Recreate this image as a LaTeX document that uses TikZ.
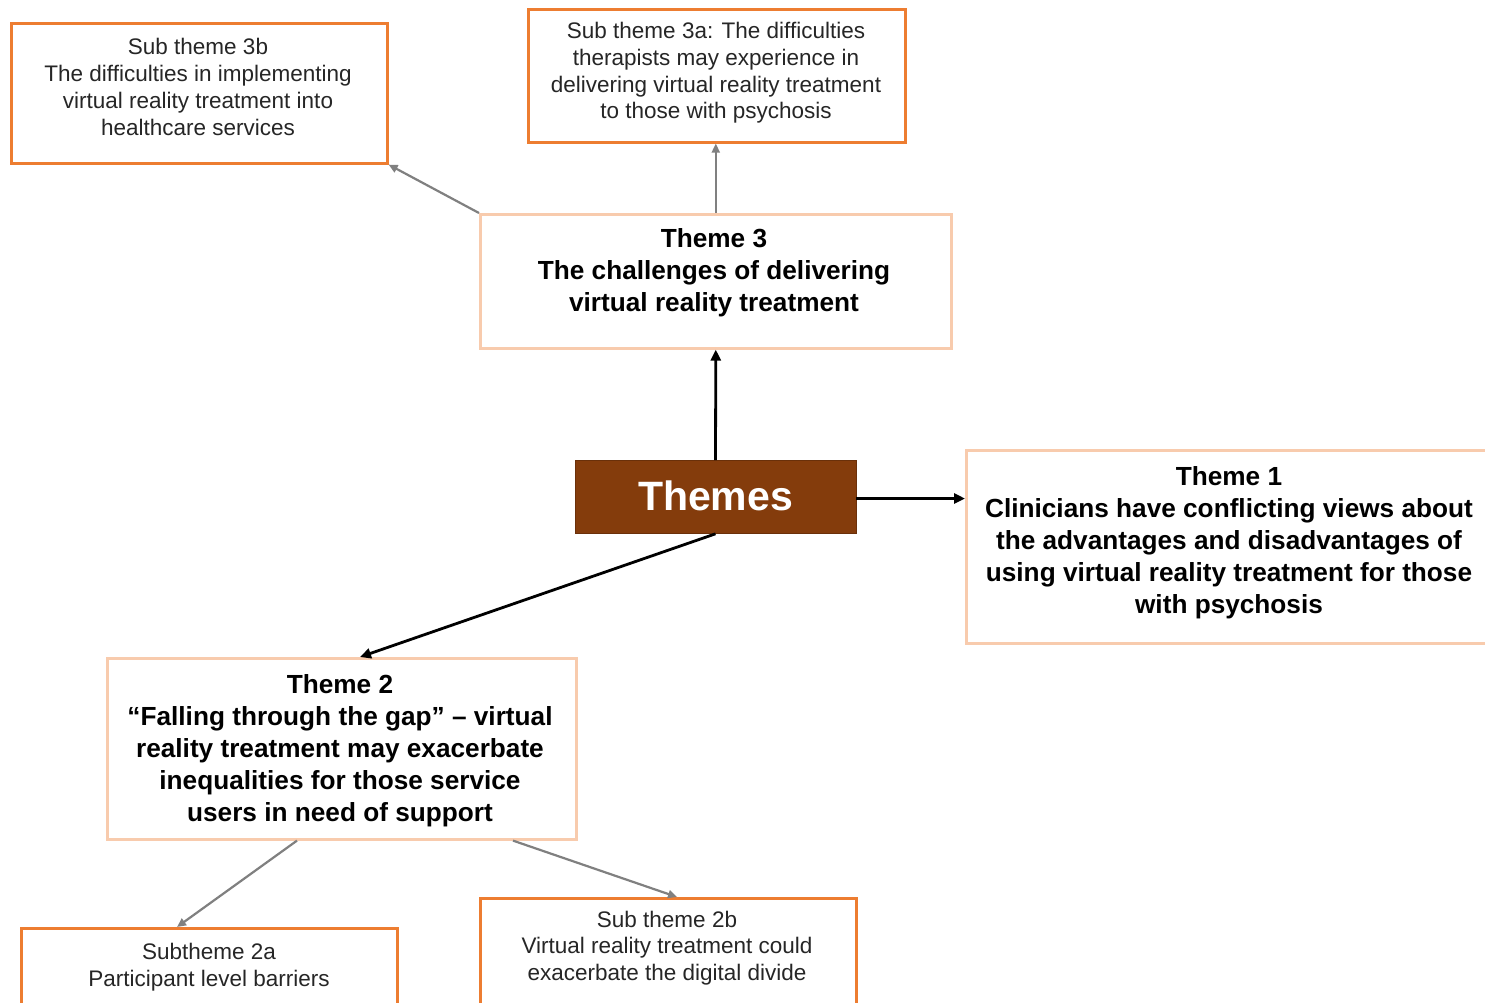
\documentclass[tikz,border=0pt]{standalone}
\usepackage{fontspec}
\setmainfont{Liberation Sans}
\usetikzlibrary{arrows.meta,positioning}

\definecolor{subedge}{HTML}{ED7D31}
\definecolor{themeedge}{HTML}{F8CBAD}
\definecolor{hubfill}{HTML}{843C0C}
\definecolor{sublink}{HTML}{808080}
\definecolor{subtext}{HTML}{262626}

\tikzset{
  x=1pt, y=-1pt,
  boxbase/.style={rectangle, anchor=north west, inner sep=0pt, fill=white},
  subbox/.style={boxbase, draw=subedge, line width=2.6pt},
  themebox/.style={boxbase, draw=themeedge, line width=2.6pt},
  subtxt/.style={align=center, inner sep=0pt, text=subtext,
    font=\fontsize{22.5}{26.7}\selectfont},
  themetxt/.style={align=center, inner sep=0pt, text=black,
    font=\fontsize{26.2}{32}\selectfont\bfseries},
  hub/.style={rectangle, fill=hubfill, draw=hubfill!80!black, line width=0.6pt,
    minimum width=281pt, minimum height=73pt, inner sep=0pt, text=white,
    font=\fontsize{41}{46}\selectfont\bfseries},
  mainlink/.style={line width=2.8pt, draw=black,
    -{Triangle[length=11pt,width=10pt]}},
  sublinkarrow/.style={line width=2.2pt, draw=sublink,
    -{Triangle[length=9pt,width=8pt]}}
}

\begin{document}
\begin{tikzpicture}
\clip (0,0) rectangle (1485,1002);
\fill[white] (0,0) rectangle (1485,1002);

% sub-theme boxes
\node[subbox, minimum width=376pt, minimum height=140pt] (s3b) at (10,22) {};
\node[subbox, minimum width=377pt, minimum height=133pt] (s3a) at (527,8) {};
\node[subbox, minimum width=376pt, minimum height=120pt] (s2a) at (20,927) {};
\node[subbox, minimum width=376pt, minimum height=150pt] (s2b) at (479,897) {};

% theme boxes
\node[themebox, minimum width=471pt, minimum height=134pt] (t3) at (479,213) {};
\node[themebox, minimum width=540pt, minimum height=193pt] (t1) at (965,449) {};
\node[themebox, minimum width=469pt, minimum height=181pt] (t2) at (106,657) {};

% central node
\node[hub] (th) at (715.5,497) {\raisebox{2pt}{Themes}};

% labels
\node[subtxt] (s3bl) at (198,87) {Sub theme 3b\\The difficulties in implementing\\virtual reality treatment into\\healthcare services};
\node[subtxt] (s3al) at (716,73) {Sub theme 3a: The difficulties\\therapists may experience in\\delivering virtual reality treatment\\to those with psychosis};
\node[subtxt] (s2al) at (209,967) {Subtheme 2a\\Participant level barriers};
\node[subtxt] (s2bl) at (667,948) {Sub theme 2b\\Virtual reality treatment could\\exacerbate the digital divide};

\node[themetxt] (t3l) at (714,273) {Theme 3\\The challenges of delivering\\virtual reality treatment};
\node[themetxt] (t1l) at (1229,543) {Theme 1\\Clinicians have conflicting views about\\the advantages and disadvantages of\\using virtual reality treatment for those\\with psychosis};
\node[themetxt] (t2l) at (340,751) {Theme 2\\“Falling through the gap” – virtual\\reality treatment may exacerbate\\inequalities for those service\\users in need of support};

% connectors from the central node
\draw[mainlink] (th.north) -- (t3.south);
\draw[mainlink] ([yshift=-1.5pt]th.east) -- ([yshift=-1.5pt]th.east -| t1.west);
\draw[mainlink] (th.south) -- ([xshift=254pt]t2.north west);

% connectors to sub-themes
\draw[sublinkarrow] (t3.north) -- (t3.north |- s3a.south);
\draw[sublinkarrow] (t3.north west) -- (s3b.south east);
\draw[sublinkarrow] ([xshift=191pt]t2.south west) -- ([xshift=157pt]s2a.north west);
\draw[sublinkarrow] ([xshift=407pt]t2.south west) -- ([xshift=198pt]s2b.north west);
\end{tikzpicture}
\end{document}
